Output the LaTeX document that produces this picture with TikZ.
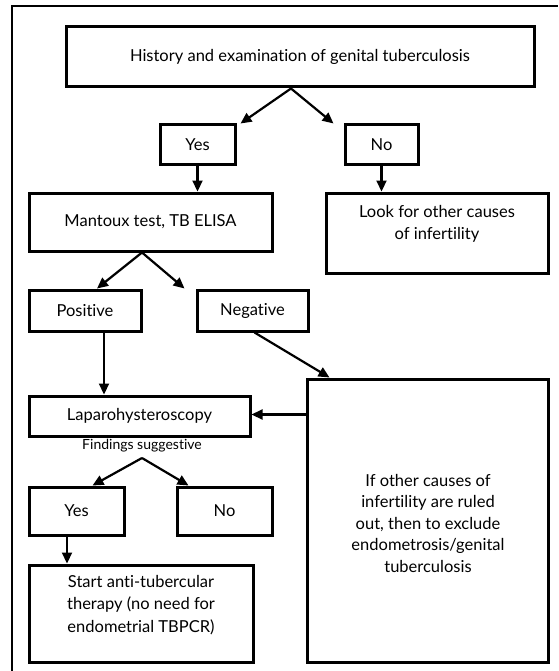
\documentclass[tikz,border=0pt]{standalone}
\usepackage{fontspec}
\setmainfont{Lato}[RawFeature=-liga]
\usetikzlibrary{arrows.meta}
\begin{document}
\begin{tikzpicture}[x=1pt,y=-1pt,
  box/.style={draw=black,line width=3pt,inner sep=0pt,align=center,font=\fontsize{16.5}{21.5}\selectfont},
  txt/.style={inner sep=0pt,align=center,font=\fontsize{16.5}{22}\selectfont},
  arr/.style={draw=black,line width=2.2pt,-{Triangle[length=11pt,width=10pt]}},
  frame/.style={draw=black,line width=1.4pt}]
\useasboundingbox (0,0) rectangle (558,671);
\coordinate (fa) at (12,671);
\coordinate (fb) at (12,6);
\coordinate (fc) at (558,6);
\draw[frame] (fa) -- (fb) -- (fc);
% boxes
\node[box,minimum width=468pt,minimum height=60pt] (top) at (300,57) {History and examination of genital tuberculosis};
\node[box,minimum width=75pt,minimum height=40pt] (yes1) at (197.5,145) {Yes};
\node[box,minimum width=73pt,minimum height=40pt] (no1) at (381.5,145) {No};
\node[box,minimum width=243pt,minimum height=58pt] (mant) at (150.5,222) {Mantoux test, TB ELISA};
\node[box,minimum width=222pt,minimum height=80pt] (look) at (437,233) {};
\node[txt] (looktxt) at (437,224) {Look for other causes\\of infertility};
\node[box,minimum width=112pt,minimum height=41pt] (pos) at (85,310.5) {Positive};
\node[box,minimum width=111pt,minimum height=41pt] (neg) at (252.5,310.5) {Negative};
\node[box,minimum width=221pt,minimum height=40pt] (lap) at (139.5,416) {Laparohysteroscopy};
\node[font=\fontsize{14}{15}\selectfont,inner sep=0pt] (find) at (142,446) {Findings suggestive};
\coordinate (apex3) at (142,458);
\node[box,minimum width=241pt,minimum height=283pt] (big) at (427.5,520.5) {};
\node[txt,font=\fontsize{16.5}{21.5}\selectfont] (bigtxt) at (428,523) {If other causes of\\infertility are ruled\\out, then to exclude\\endometrosis/genital\\tuberculosis};
\node[box,minimum width=95pt,minimum height=48pt] (yes2) at (76.5,511) {Yes};
\node[box,minimum width=95pt,minimum height=48pt] (no2) at (224.5,511) {No};
\node[box,minimum width=224pt,minimum height=97pt] (start) at (141,613.5) {};
\node[txt,font=\fontsize{16.5}{22.5}\selectfont] (starttxt) at (141,605) {Start anti-tubercular\\therapy (no need for\\endometrial TBPCR)};
% connectors
\draw[arr] ([xshift=-9pt]top.south) -- ([xshift=4pt]yes1.north east);
\draw[arr] ([xshift=-9pt]top.south) -- ([xshift=-10pt]no1.north west);
\draw[arr] (yes1.south) -- (yes1.south |- mant.north);
\draw[arr] (no1.south) -- (no1.south |- look.north);
\draw[arr] ([xshift=-8.5pt]mant.south) -- ([xshift=12pt]pos.north);
\draw[arr] ([xshift=-8.5pt]mant.south) -- ([xshift=-11pt]neg.north west);
\draw[arr] ([xshift=19pt]pos.south) -- ([xshift=19pt]pos.south |- lap.north);
\draw[arr] ([xshift=2pt]neg.south) -- ([xshift=24pt]big.north west);
\draw[arr] ([yshift=106pt]big.west) -- ([yshift=106pt]big.west -| lap.east);
\draw[arr] (apex3) -- ([xshift=16pt]yes2.north);
\draw[arr] (apex3) -- ([xshift=-36pt]no2.north);
\draw[arr] ([xshift=-9.5pt]yes2.south) -- ([xshift=-9.5pt]yes2.south |- start.north);
\end{tikzpicture}
\end{document}
